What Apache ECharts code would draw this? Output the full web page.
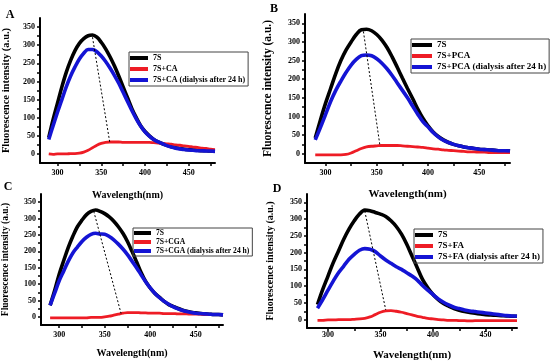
<!DOCTYPE html>
<html><head><meta charset="utf-8">
<script src="https://cdn.jsdelivr.net/npm/echarts@6/dist/echarts.min.js"></script>
<style>html,body{margin:0;padding:0;background:#fff}#c{width:550px;height:362px}</style>
</head><body><div id="c"></div>
<script>
// ---- data ----
const wavelength = [290,295,300,305,310,315,320,325,330,335,340,345,350,355,360,365,370,375,380,385,390,395,400,405,410,415,420,425,430,435,440,445,450,455,460,465,470,475,480];

const blackA = [45,95,140,185,225,258,285,305,318,326,328,322,308,290,268,243,215,185,155,125,100,78,62,50,40,33,28,24,20,17,15,13,12,11,10,9,9,8,8];
const redA   = [0,-1,0,0,0,1,1,2,5,10,17,24,29,32,33,33,33,32,32,32,32,32,32,32,31,30,29,28,27,25,24,22,21,19,18,16,15,13,12];
const blueA  = [40,78,115,150,185,215,240,262,278,288,288,282,270,255,237,217,195,170,145,120,97,77,61,49,40,33,28,23,19,16,14,12,11,10,9,9,8,8,7];

const blackB = [42,90,135,175,215,250,278,300,320,333,334,330,320,305,285,260,232,203,175,148,120,95,75,58,46,37,30,25,21,18,16,14,12,11,10,9,8,8,7];
const redB   = [-3,-3,-3,-3,-3,-3,-2,2,8,14,18,20,21,22,22,22,22,21,20,19,18,17,15,13,12,10,9,8,7,6,5,5,4,4,3,3,3,3,3];
const blueB  = [37,70,105,140,170,195,218,238,253,263,265,263,255,243,228,210,190,170,150,128,106,86,72,57,45,36,30,25,21,18,16,14,12,11,10,9,8,8,7];

const blackC = [35,80,130,172,212,246,275,295,312,322,326,322,315,305,292,275,255,230,200,168,135,108,88,72,60,48,38,32,26,21,17,14,12,10,9,8,7,7,6];
const redC   = [-3,-3,-3,-3,-3,-3,-3,-3,-3,-2,-2,-2,0,2,5,8,11,13,13,13,12,12,11,11,11,10,10,10,9,9,9,8,8,8,7,7,7,7,7];
const blueC  = [35,72,110,140,170,195,213,230,243,252,255,253,252,245,235,222,207,190,170,150,128,107,88,72,59,48,39,31,25,20,16,13,11,10,9,8,7,7,6];

const blackD = [45,90,130,170,205,240,270,295,315,327,325,320,315,308,295,278,255,225,190,155,120,95,75,60,48,40,33,28,24,21,19,17,15,14,13,12,11,10,10];
const redD   = [-2,-2,-1,-1,0,0,0,1,2,4,8,15,22,26,27,25,22,18,14,10,7,4,2,0,-1,-2,-2,-3,-3,-4,-3,-3,-3,-3,-3,-3,-3,-3,-3];
const blueD  = [34,60,88,115,140,160,180,195,207,212,210,203,190,178,168,158,150,140,130,118,102,88,75,62,52,44,37,33,29,26,24,22,20,18,16,14,12,11,10];

// dotted peak-shift lines: [wavelength, intensity]
const shiftA = [[340,322],[360,28]];
const shiftB = [[337,328],[353,24]];
const shiftC = [[338,322],[368,10]];
const shiftD = [[335,324],[355,29]];

const namesA = ['7S','7S+CA','7S+CA (dialysis after 24 h)'];
const namesB = ['7S','7S+PCA','7S+PCA (dialysis after 24 h)'];
const namesC = ['7S','7S+CGA','7S+CGA (dialysis after 24 h)'];
const namesD = ['7S','7S+FA','7S+FA (dialysis after 24 h)'];
const panelLetters = ['A','B','C','D'];

const xTickLabels = [300,350,400,450];
const xTickMarks = [300,325,350,375,400,425,450,475];
const yTickLabels = [0,50,100,150,200,250,300,350];
const yTickMarks = [0,25,50,75,100,125,150,175,200,225,250,275,300,325,350];
const xTitle = 'Wavelength(nm)';
const yTitle = 'Fluorescence intensity (a.u.)';

// ---- layout / style ----
const FONT = '"Liberation Serif","Times New Roman",serif';
const colors = ['#000000','#ee1c25','#1414d4'];
const layout = [
  {grid:{left:36,top:18,width:179,height:145}, lg:{left:129,top:52,fs:8,lh:10,iw:18}, xg:27, xfs:10, yg:28, yfs:10.5, lm:6, letter:[10,15]},
  {grid:{left:305,top:14,width:205,height:149}, lg:{left:411,top:39,fs:9,lh:10,iw:20}, xg:26, xfs:11, yg:31, yfs:11.5, lm:6, letter:[274,9]},
  {grid:{left:38,top:194,width:185,height:131}, lg:{left:133,top:228,fs:7.6,lh:8,iw:17}, xg:23, xfs:10, yg:30, yfs:9.5, lm:6, letter:[8,187]},
  {grid:{left:307,top:194,width:210,height:138}, lg:{left:414,top:229,fs:9,lh:10,iw:18}, xg:22, xfs:11, yg:32, yfs:10, lm:3, letter:[277,189]}
];
const seriesData = [[blackA,redA,blueA],[blackB,redB,blueB],[blackC,redC,blueC],[blackD,redD,blueD]];
const names = [namesA,namesB,namesC,namesD];
const shifts = [shiftA,shiftB,shiftC,shiftD];

const option = {animation:false, grid:[], xAxis:[], yAxis:[], series:[], legend:[], graphic:[]};
layout.forEach((L,i)=>{
  option.grid.push(L.grid);
  option.xAxis.push({
    type:'value', gridIndex:i, min:280, max:480,
    name:xTitle, nameLocation:'middle', nameGap:L.xg,
    nameTextStyle:{fontFamily:FONT,fontWeight:'bold',fontSize:L.xfs,color:'#000'},
    axisLine:{show:true,onZero:false,lineStyle:{color:'#000',width:2}},
    axisTick:{show:true,length:3,lineStyle:{color:'#000',width:1.5},customValues:xTickMarks},
    axisLabel:{fontFamily:FONT,fontWeight:'bold',fontSize:8,color:'#000',margin:L.lm,customValues:xTickLabels},
    splitLine:{show:false}
  });
  option.yAxis.push({
    type:'value', gridIndex:i, min:-25, max:375,
    name:yTitle, nameLocation:'middle', nameGap:L.yg, nameRotate:90,
    nameTextStyle:{fontFamily:FONT,fontWeight:'bold',fontSize:L.yfs,color:'#000'},
    axisLine:{show:true,onZero:false,lineStyle:{color:'#000',width:2}},
    axisTick:{show:true,length:3,lineStyle:{color:'#000',width:1.5},customValues:yTickMarks},
    axisLabel:{fontFamily:FONT,fontWeight:'bold',fontSize:8,color:'#000',margin:5,customValues:yTickLabels},
    splitLine:{show:false}
  });
  seriesData[i].forEach((vals,k)=>{
    option.series.push({
      type:'line', name:names[i][k], xAxisIndex:i, yAxisIndex:i,
      data: wavelength.map((w,j)=>[w,vals[j]]),
      showSymbol:false, smooth:0.35,
      lineStyle:{color:colors[k], width:k===1?2.8:3.6},
      itemStyle:{color:colors[k]}, z:2+k
    });
  });
  option.series.push({
    type:'line', name:'shift'+i, xAxisIndex:i, yAxisIndex:i, data:shifts[i],
    showSymbol:false, lineStyle:{color:'#000',width:1,type:[2,2]}, z:10
  });
  option.legend.push({
    orient:'vertical', left:L.lg.left, top:L.lg.top, data:names[i], selectedMode:false,
    icon:'rect', itemWidth:L.lg.iw, itemHeight:4, itemGap:1,
    padding:[1,3,1,1], borderColor:'#444', borderWidth:1,
    textStyle:{fontFamily:FONT,fontWeight:'bold',fontSize:L.lg.fs,lineHeight:L.lg.lh,color:'#000'}
  });
  option.graphic.push({
    type:'text', x:L.letter[0], y:L.letter[1],
    style:{text:panelLetters[i], font:'bold 12px '+FONT, fill:'#000', align:'center', verticalAlign:'middle'}
  });
});
const chart = echarts.init(document.getElementById('c'), null, {renderer:'canvas'});
chart.setOption(option);
</script></body></html>
